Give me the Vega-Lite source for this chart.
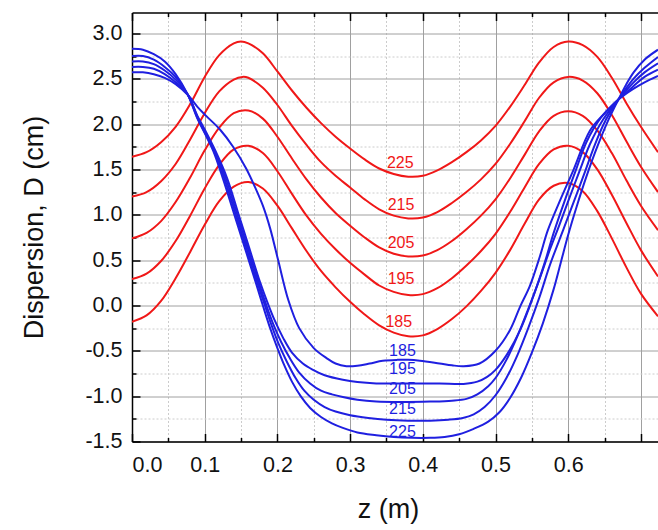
{
  "$schema": "https://vega.github.io/schema/vega-lite/v6.json",
  "autosize": {"type": "none"},
  "width": 526,
  "height": 429,
  "padding": {"left": 132, "top": 12.5, "right": 0, "bottom": 88.5},
  "background": "white",
  "config": {"font": "Liberation Sans", "view": {"stroke": null}},
  "datasets": {
    "red": [
      {"c":"r225","z":0,"d":1.64},{"c":"r225","z":0.02,"d":1.69},{"c":"r225","z":0.04,"d":1.80},{"c":"r225","z":0.06,"d":1.97},{"c":"r225","z":0.08,"d":2.22},{"c":"r225","z":0.10,"d":2.52},{"c":"r225","z":0.12,"d":2.76},{"c":"r225","z":0.14,"d":2.89},{"c":"r225","z":0.15,"d":2.91},{"c":"r225","z":0.16,"d":2.89},{"c":"r225","z":0.18,"d":2.78},{"c":"r225","z":0.20,"d":2.58},{"c":"r225","z":0.22,"d":2.37},{"c":"r225","z":0.24,"d":2.18},{"c":"r225","z":0.26,"d":2.01},{"c":"r225","z":0.28,"d":1.86},{"c":"r225","z":0.30,"d":1.73},{"c":"r225","z":0.32,"d":1.61},{"c":"r225","z":0.34,"d":1.51},{"c":"r225","z":0.36,"d":1.45},{"c":"r225","z":0.38,"d":1.42},{"c":"r225","z":0.40,"d":1.43},{"c":"r225","z":0.42,"d":1.49},{"c":"r225","z":0.44,"d":1.58},{"c":"r225","z":0.46,"d":1.69},{"c":"r225","z":0.48,"d":1.82},{"c":"r225","z":0.50,"d":1.98},{"c":"r225","z":0.52,"d":2.19},{"c":"r225","z":0.54,"d":2.43},{"c":"r225","z":0.56,"d":2.68},{"c":"r225","z":0.58,"d":2.85},{"c":"r225","z":0.60,"d":2.91},{"c":"r225","z":0.62,"d":2.87},{"c":"r225","z":0.64,"d":2.74},{"c":"r225","z":0.66,"d":2.51},{"c":"r225","z":0.68,"d":2.23},{"c":"r225","z":0.70,"d":1.97},{"c":"r225","z":0.7235,"d":1.69},
      {"c":"r215","z":0,"d":1.20},{"c":"r215","z":0.02,"d":1.25},{"c":"r215","z":0.04,"d":1.37},{"c":"r215","z":0.06,"d":1.56},{"c":"r215","z":0.08,"d":1.83},{"c":"r215","z":0.10,"d":2.12},{"c":"r215","z":0.12,"d":2.36},{"c":"r215","z":0.14,"d":2.49},{"c":"r215","z":0.152,"d":2.52},{"c":"r215","z":0.16,"d":2.51},{"c":"r215","z":0.18,"d":2.40},{"c":"r215","z":0.20,"d":2.21},{"c":"r215","z":0.22,"d":1.98},{"c":"r215","z":0.24,"d":1.77},{"c":"r215","z":0.26,"d":1.58},{"c":"r215","z":0.28,"d":1.43},{"c":"r215","z":0.30,"d":1.30},{"c":"r215","z":0.32,"d":1.17},{"c":"r215","z":0.34,"d":1.06},{"c":"r215","z":0.36,"d":0.99},{"c":"r215","z":0.38,"d":0.96},{"c":"r215","z":0.40,"d":0.97},{"c":"r215","z":0.42,"d":1.03},{"c":"r215","z":0.44,"d":1.13},{"c":"r215","z":0.46,"d":1.25},{"c":"r215","z":0.48,"d":1.39},{"c":"r215","z":0.50,"d":1.56},{"c":"r215","z":0.52,"d":1.78},{"c":"r215","z":0.54,"d":2.03},{"c":"r215","z":0.56,"d":2.29},{"c":"r215","z":0.58,"d":2.46},{"c":"r215","z":0.60,"d":2.52},{"c":"r215","z":0.62,"d":2.48},{"c":"r215","z":0.64,"d":2.34},{"c":"r215","z":0.66,"d":2.10},{"c":"r215","z":0.68,"d":1.81},{"c":"r215","z":0.70,"d":1.53},{"c":"r215","z":0.7235,"d":1.25},
      {"c":"r205","z":0,"d":0.74},{"c":"r205","z":0.02,"d":0.80},{"c":"r205","z":0.04,"d":0.93},{"c":"r205","z":0.06,"d":1.14},{"c":"r205","z":0.08,"d":1.41},{"c":"r205","z":0.10,"d":1.71},{"c":"r205","z":0.12,"d":1.96},{"c":"r205","z":0.14,"d":2.12},{"c":"r205","z":0.16,"d":2.15},{"c":"r205","z":0.18,"d":2.06},{"c":"r205","z":0.20,"d":1.86},{"c":"r205","z":0.22,"d":1.62},{"c":"r205","z":0.24,"d":1.39},{"c":"r205","z":0.26,"d":1.19},{"c":"r205","z":0.28,"d":1.02},{"c":"r205","z":0.30,"d":0.88},{"c":"r205","z":0.32,"d":0.75},{"c":"r205","z":0.34,"d":0.64},{"c":"r205","z":0.36,"d":0.57},{"c":"r205","z":0.38,"d":0.54},{"c":"r205","z":0.40,"d":0.55},{"c":"r205","z":0.42,"d":0.61},{"c":"r205","z":0.44,"d":0.71},{"c":"r205","z":0.46,"d":0.84},{"c":"r205","z":0.48,"d":0.99},{"c":"r205","z":0.50,"d":1.17},{"c":"r205","z":0.52,"d":1.40},{"c":"r205","z":0.54,"d":1.66},{"c":"r205","z":0.56,"d":1.92},{"c":"r205","z":0.58,"d":2.09},{"c":"r205","z":0.60,"d":2.14},{"c":"r205","z":0.62,"d":2.09},{"c":"r205","z":0.64,"d":1.93},{"c":"r205","z":0.66,"d":1.68},{"c":"r205","z":0.68,"d":1.38},{"c":"r205","z":0.70,"d":1.10},{"c":"r205","z":0.7235,"d":0.83},
      {"c":"r195","z":0,"d":0.29},{"c":"r195","z":0.02,"d":0.35},{"c":"r195","z":0.04,"d":0.49},{"c":"r195","z":0.06,"d":0.71},{"c":"r195","z":0.08,"d":0.99},{"c":"r195","z":0.10,"d":1.29},{"c":"r195","z":0.12,"d":1.55},{"c":"r195","z":0.14,"d":1.72},{"c":"r195","z":0.16,"d":1.76},{"c":"r195","z":0.18,"d":1.68},{"c":"r195","z":0.20,"d":1.48},{"c":"r195","z":0.22,"d":1.23},{"c":"r195","z":0.24,"d":0.99},{"c":"r195","z":0.26,"d":0.79},{"c":"r195","z":0.28,"d":0.62},{"c":"r195","z":0.30,"d":0.47},{"c":"r195","z":0.32,"d":0.34},{"c":"r195","z":0.34,"d":0.22},{"c":"r195","z":0.36,"d":0.15},{"c":"r195","z":0.38,"d":0.115},{"c":"r195","z":0.40,"d":0.125},{"c":"r195","z":0.42,"d":0.19},{"c":"r195","z":0.44,"d":0.30},{"c":"r195","z":0.46,"d":0.44},{"c":"r195","z":0.48,"d":0.60},{"c":"r195","z":0.50,"d":0.79},{"c":"r195","z":0.52,"d":1.03},{"c":"r195","z":0.54,"d":1.30},{"c":"r195","z":0.56,"d":1.56},{"c":"r195","z":0.58,"d":1.72},{"c":"r195","z":0.60,"d":1.76},{"c":"r195","z":0.62,"d":1.69},{"c":"r195","z":0.64,"d":1.50},{"c":"r195","z":0.66,"d":1.22},{"c":"r195","z":0.68,"d":0.91},{"c":"r195","z":0.70,"d":0.61},{"c":"r195","z":0.7235,"d":0.32},
      {"c":"r185","z":0,"d":-0.18},{"c":"r185","z":0.02,"d":-0.11},{"c":"r185","z":0.04,"d":0.05},{"c":"r185","z":0.06,"d":0.30},{"c":"r185","z":0.08,"d":0.59},{"c":"r185","z":0.10,"d":0.89},{"c":"r185","z":0.12,"d":1.15},{"c":"r185","z":0.14,"d":1.31},{"c":"r185","z":0.16,"d":1.36},{"c":"r185","z":0.18,"d":1.29},{"c":"r185","z":0.20,"d":1.10},{"c":"r185","z":0.22,"d":0.85},{"c":"r185","z":0.24,"d":0.60},{"c":"r185","z":0.26,"d":0.38},{"c":"r185","z":0.28,"d":0.20},{"c":"r185","z":0.30,"d":0.04},{"c":"r185","z":0.32,"d":-0.10},{"c":"r185","z":0.34,"d":-0.22},{"c":"r185","z":0.36,"d":-0.30},{"c":"r185","z":0.38,"d":-0.34},{"c":"r185","z":0.40,"d":-0.33},{"c":"r185","z":0.42,"d":-0.26},{"c":"r185","z":0.44,"d":-0.15},{"c":"r185","z":0.46,"d":-0.01},{"c":"r185","z":0.48,"d":0.16},{"c":"r185","z":0.50,"d":0.36},{"c":"r185","z":0.52,"d":0.61},{"c":"r185","z":0.54,"d":0.90},{"c":"r185","z":0.56,"d":1.17},{"c":"r185","z":0.58,"d":1.32},{"c":"r185","z":0.60,"d":1.35},{"c":"r185","z":0.62,"d":1.26},{"c":"r185","z":0.64,"d":1.04},{"c":"r185","z":0.66,"d":0.74},{"c":"r185","z":0.68,"d":0.42},{"c":"r185","z":0.70,"d":0.13},{"c":"r185","z":0.7235,"d":-0.12}
    ],
    "blue": [
      {"c":"b225","z":0,"d":2.83},{"c":"b225","z":0.015,"d":2.82},{"c":"b225","z":0.03,"d":2.77},{"c":"b225","z":0.045,"d":2.69},{"c":"b225","z":0.06,"d":2.55},{"c":"b225","z":0.077,"d":2.32},{"c":"b225","z":0.09,"d":2.06},{"c":"b225","z":0.10,"d":1.90},{"c":"b225","z":0.112,"d":1.70},{"c":"b225","z":0.125,"d":1.40},{"c":"b225","z":0.14,"d":1.02},{"c":"b225","z":0.155,"d":0.64},{"c":"b225","z":0.17,"d":0.26},{"c":"b225","z":0.18,"d":0.0},{"c":"b225","z":0.19,"d":-0.25},{"c":"b225","z":0.20,"d":-0.47},{"c":"b225","z":0.21,"d":-0.67},{"c":"b225","z":0.22,"d":-0.84},{"c":"b225","z":0.232,"d":-1.00},{"c":"b225","z":0.245,"d":-1.13},{"c":"b225","z":0.26,"d":-1.23},{"c":"b225","z":0.275,"d":-1.30},{"c":"b225","z":0.29,"d":-1.35},{"c":"b225","z":0.31,"d":-1.40},{"c":"b225","z":0.336,"d":-1.43},{"c":"b225","z":0.36,"d":-1.45},{"c":"b225","z":0.385,"d":-1.46},{"c":"b225","z":0.41,"d":-1.46},{"c":"b225","z":0.43,"d":-1.45},{"c":"b225","z":0.45,"d":-1.42},{"c":"b225","z":0.47,"d":-1.36},{"c":"b225","z":0.49,"d":-1.28},{"c":"b225","z":0.505,"d":-1.18},{"c":"b225","z":0.52,"d":-1.02},{"c":"b225","z":0.535,"d":-0.80},{"c":"b225","z":0.55,"d":-0.52},{"c":"b225","z":0.565,"d":-0.20},{"c":"b225","z":0.58,"d":0.18},{"c":"b225","z":0.59,"d":0.48},{"c":"b225","z":0.60,"d":0.78},{"c":"b225","z":0.612,"d":1.10},{"c":"b225","z":0.625,"d":1.42},{"c":"b225","z":0.64,"d":1.75},{"c":"b225","z":0.655,"d":2.04},{"c":"b225","z":0.669,"d":2.27},{"c":"b225","z":0.68,"d":2.44},{"c":"b225","z":0.69,"d":2.57},{"c":"b225","z":0.705,"d":2.71},{"c":"b225","z":0.7235,"d":2.82},
      {"c":"b215","z":0,"d":2.75},{"c":"b215","z":0.015,"d":2.75},{"c":"b215","z":0.03,"d":2.71},{"c":"b215","z":0.045,"d":2.63},{"c":"b215","z":0.06,"d":2.52},{"c":"b215","z":0.077,"d":2.32},{"c":"b215","z":0.09,"d":2.07},{"c":"b215","z":0.10,"d":1.91},{"c":"b215","z":0.113,"d":1.70},{"c":"b215","z":0.127,"d":1.40},{"c":"b215","z":0.142,"d":1.02},{"c":"b215","z":0.157,"d":0.64},{"c":"b215","z":0.172,"d":0.26},{"c":"b215","z":0.182,"d":0.02},{"c":"b215","z":0.192,"d":-0.22},{"c":"b215","z":0.202,"d":-0.43},{"c":"b215","z":0.213,"d":-0.62},{"c":"b215","z":0.225,"d":-0.80},{"c":"b215","z":0.237,"d":-0.94},{"c":"b215","z":0.25,"d":-1.04},{"c":"b215","z":0.265,"d":-1.12},{"c":"b215","z":0.28,"d":-1.17},{"c":"b215","z":0.30,"d":-1.21},{"c":"b215","z":0.325,"d":-1.24},{"c":"b215","z":0.35,"d":-1.26},{"c":"b215","z":0.38,"d":-1.27},{"c":"b215","z":0.41,"d":-1.27},{"c":"b215","z":0.435,"d":-1.26},{"c":"b215","z":0.455,"d":-1.24},{"c":"b215","z":0.47,"d":-1.20},{"c":"b215","z":0.485,"d":-1.12},{"c":"b215","z":0.50,"d":-0.99},{"c":"b215","z":0.515,"d":-0.80},{"c":"b215","z":0.53,"d":-0.55},{"c":"b215","z":0.545,"d":-0.25},{"c":"b215","z":0.56,"d":0.08},{"c":"b215","z":0.575,"d":0.45},{"c":"b215","z":0.593,"d":0.83},{"c":"b215","z":0.608,"d":1.15},{"c":"b215","z":0.622,"d":1.45},{"c":"b215","z":0.637,"d":1.78},{"c":"b215","z":0.652,"d":2.05},{"c":"b215","z":0.669,"d":2.27},{"c":"b215","z":0.69,"d":2.50},{"c":"b215","z":0.705,"d":2.62},{"c":"b215","z":0.7235,"d":2.74},
      {"c":"b205","z":0,"d":2.69},{"c":"b205","z":0.015,"d":2.69},{"c":"b205","z":0.03,"d":2.66},{"c":"b205","z":0.045,"d":2.59},{"c":"b205","z":0.06,"d":2.49},{"c":"b205","z":0.077,"d":2.32},{"c":"b205","z":0.09,"d":2.08},{"c":"b205","z":0.10,"d":1.92},{"c":"b205","z":0.114,"d":1.70},{"c":"b205","z":0.129,"d":1.40},{"c":"b205","z":0.144,"d":1.02},{"c":"b205","z":0.159,"d":0.64},{"c":"b205","z":0.174,"d":0.26},{"c":"b205","z":0.184,"d":0.02},{"c":"b205","z":0.194,"d":-0.20},{"c":"b205","z":0.205,"d":-0.40},{"c":"b205","z":0.217,"d":-0.58},{"c":"b205","z":0.23,"d":-0.74},{"c":"b205","z":0.245,"d":-0.86},{"c":"b205","z":0.26,"d":-0.94},{"c":"b205","z":0.275,"d":-0.98},{"c":"b205","z":0.29,"d":-1.01},{"c":"b205","z":0.31,"d":-1.04},{"c":"b205","z":0.336,"d":-1.06},{"c":"b205","z":0.37,"d":-1.065},{"c":"b205","z":0.41,"d":-1.06},{"c":"b205","z":0.44,"d":-1.05},{"c":"b205","z":0.46,"d":-1.03},{"c":"b205","z":0.475,"d":-0.98},{"c":"b205","z":0.49,"d":-0.89},{"c":"b205","z":0.50,"d":-0.80},{"c":"b205","z":0.515,"d":-0.60},{"c":"b205","z":0.53,"d":-0.34},{"c":"b205","z":0.545,"d":-0.04},{"c":"b205","z":0.56,"d":0.28},{"c":"b205","z":0.575,"d":0.62},{"c":"b205","z":0.587,"d":0.87},{"c":"b205","z":0.60,"d":1.15},{"c":"b205","z":0.615,"d":1.47},{"c":"b205","z":0.63,"d":1.78},{"c":"b205","z":0.648,"d":2.05},{"c":"b205","z":0.669,"d":2.27},{"c":"b205","z":0.69,"d":2.46},{"c":"b205","z":0.705,"d":2.57},{"c":"b205","z":0.7235,"d":2.67},
      {"c":"b195","z":0,"d":2.63},{"c":"b195","z":0.015,"d":2.63},{"c":"b195","z":0.03,"d":2.61},{"c":"b195","z":0.045,"d":2.55},{"c":"b195","z":0.06,"d":2.46},{"c":"b195","z":0.077,"d":2.32},{"c":"b195","z":0.09,"d":2.09},{"c":"b195","z":0.10,"d":1.94},{"c":"b195","z":0.115,"d":1.70},{"c":"b195","z":0.131,"d":1.40},{"c":"b195","z":0.146,"d":1.02},{"c":"b195","z":0.161,"d":0.64},{"c":"b195","z":0.176,"d":0.26},{"c":"b195","z":0.186,"d":0.04},{"c":"b195","z":0.196,"d":-0.16},{"c":"b195","z":0.208,"d":-0.36},{"c":"b195","z":0.22,"d":-0.52},{"c":"b195","z":0.235,"d":-0.64},{"c":"b195","z":0.249,"d":-0.71},{"c":"b195","z":0.265,"d":-0.77},{"c":"b195","z":0.29,"d":-0.82},{"c":"b195","z":0.31,"d":-0.845},{"c":"b195","z":0.336,"d":-0.86},{"c":"b195","z":0.382,"d":-0.86},{"c":"b195","z":0.423,"d":-0.86},{"c":"b195","z":0.456,"d":-0.865},{"c":"b195","z":0.475,"d":-0.84},{"c":"b195","z":0.488,"d":-0.79},{"c":"b195","z":0.50,"d":-0.71},{"c":"b195","z":0.515,"d":-0.55},{"c":"b195","z":0.534,"d":-0.27},{"c":"b195","z":0.552,"d":0.10},{"c":"b195","z":0.568,"d":0.48},{"c":"b195","z":0.58,"d":0.80},{"c":"b195","z":0.595,"d":1.15},{"c":"b195","z":0.61,"d":1.48},{"c":"b195","z":0.625,"d":1.80},{"c":"b195","z":0.645,"d":2.07},{"c":"b195","z":0.669,"d":2.27},{"c":"b195","z":0.69,"d":2.42},{"c":"b195","z":0.705,"d":2.52},{"c":"b195","z":0.7235,"d":2.60},
      {"c":"b185","z":0,"d":2.57},{"c":"b185","z":0.015,"d":2.57},{"c":"b185","z":0.03,"d":2.55},{"c":"b185","z":0.045,"d":2.51},{"c":"b185","z":0.06,"d":2.44},{"c":"b185","z":0.077,"d":2.32},{"c":"b185","z":0.09,"d":2.19},{"c":"b185","z":0.102,"d":2.09},{"c":"b185","z":0.121,"d":1.94},{"c":"b185","z":0.139,"d":1.75},{"c":"b185","z":0.157,"d":1.51},{"c":"b185","z":0.17,"d":1.29},{"c":"b185","z":0.18,"d":1.10},{"c":"b185","z":0.19,"d":0.85},{"c":"b185","z":0.201,"d":0.50},{"c":"b185","z":0.215,"d":0.06},{"c":"b185","z":0.23,"d":-0.25},{"c":"b185","z":0.25,"d":-0.47},{"c":"b185","z":0.2675,"d":-0.58},{"c":"b185","z":0.28,"d":-0.64},{"c":"b185","z":0.295,"d":-0.67},{"c":"b185","z":0.31,"d":-0.665},{"c":"b185","z":0.327,"d":-0.64},{"c":"b185","z":0.345,"d":-0.61},{"c":"b185","z":0.365,"d":-0.60},{"c":"b185","z":0.38,"d":-0.60},{"c":"b185","z":0.396,"d":-0.61},{"c":"b185","z":0.423,"d":-0.64},{"c":"b185","z":0.44,"d":-0.66},{"c":"b185","z":0.456,"d":-0.67},{"c":"b185","z":0.478,"d":-0.64},{"c":"b185","z":0.50,"d":-0.50},{"c":"b185","z":0.52,"d":-0.27},{"c":"b185","z":0.534,"d":-0.01},{"c":"b185","z":0.547,"d":0.21},{"c":"b185","z":0.561,"d":0.54},{"c":"b185","z":0.572,"d":0.83},{"c":"b185","z":0.59,"d":1.18},{"c":"b185","z":0.607,"d":1.49},{"c":"b185","z":0.63,"d":1.93},{"c":"b185","z":0.65,"d":2.12},{"c":"b185","z":0.669,"d":2.27},{"c":"b185","z":0.69,"d":2.39},{"c":"b185","z":0.705,"d":2.46},{"c":"b185","z":0.7235,"d":2.53}
    ],
    "redlabels": [
      {"z":0.369,"d":1.57,"t":"225"},{"z":0.370,"d":1.11,"t":"215"},{"z":0.370,"d":0.685,"t":"205"},{"z":0.370,"d":0.29,"t":"195"},{"z":0.367,"d":-0.18,"t":"185"}
    ],
    "bluelabels": [
      {"z":0.372,"d":-0.50,"t":"185"},{"z":0.372,"d":-0.70,"t":"195"},{"z":0.372,"d":-0.925,"t":"205"},{"z":0.372,"d":-1.145,"t":"215"},{"z":0.372,"d":-1.39,"t":"225"}
    ]
  },
  "resolve": {"axis": {"x": "independent", "y": "independent"}},
  "layer": [
    {
      "data": {"name": "red"},
      "mark": {"type": "line", "clip": true, "strokeWidth": 2, "color": "#f01818", "interpolate": "catmull-rom"},
      "encoding": {
        "detail": {"field": "c", "type": "nominal"},
        "x": {"field": "z", "type": "quantitative",
          "scale": {"domain": [0, 0.7235], "nice": false, "zero": false},
          "axis": {"orient": "bottom", "values": [0, 0.1, 0.2, 0.3, 0.4, 0.5, 0.6, 0.7], "labelExpr": "datum.value > 0.65 ? '' : format(datum.value, '.1f')",
            "grid": true, "gridColor": "#a0a0a0", "gridWidth": 1,
            "tickSize": -8, "tickColor": "black", "tickWidth": 1.5,
            "domain": true, "domainColor": "black", "domainWidth": 1.5,
            "labelFontSize": 21.5, "labelColor": "#111", "labelPadding": 21,
            "title": "z (m)", "titleFontSize": 27, "titleFontWeight": "normal", "titleColor": "#111", "titlePadding": 20, "titleX": 256}},
        "y": {"field": "d", "type": "quantitative",
          "scale": {"domain": [-1.5, 3.23], "nice": false, "zero": false},
          "axis": {"orient": "left", "values": [-1.5, -1, -0.5, 0, 0.5, 1, 1.5, 2, 2.5, 3], "labelExpr": "replace(format(datum.value, '.1f'), '\u2212', '-')",
            "grid": true, "gridColor": "#a0a0a0", "gridWidth": 1,
            "tickSize": -8, "tickColor": "black", "tickWidth": 1.5,
            "domain": true, "domainColor": "black", "domainWidth": 1.5,
            "labelFontSize": 21.5, "labelColor": "#111", "labelPadding": 18,
            "title": "Dispersion, D (cm)", "titleFontSize": 27, "titleFontWeight": "normal", "titleColor": "#111", "titlePadding": 36}}
      }
    },
    {
      "data": {"name": "blue"},
      "mark": {"type": "line", "clip": true, "strokeWidth": 2, "color": "#1f1fe0", "interpolate": "catmull-rom"},
      "encoding": {
        "detail": {"field": "c", "type": "nominal"},
        "x": {"field": "z", "type": "quantitative",
          "scale": {"domain": [0, 0.7235], "nice": false, "zero": false},
          "axis": {"orient": "bottom", "values": [0.05, 0.15, 0.25, 0.35, 0.45, 0.55, 0.65], "labels": false,
            "grid": true, "gridColor": "#cccccc", "gridDash": [2, 2], "gridWidth": 1,
            "tickSize": -4, "tickColor": "black", "tickWidth": 1.5, "domain": false, "title": null}},
        "y": {"field": "d", "type": "quantitative",
          "scale": {"domain": [-1.5, 3.23], "nice": false, "zero": false},
          "axis": {"orient": "left", "values": [-1.25, -0.75, -0.25, 0.25, 0.75, 1.25, 1.75, 2.25, 2.75], "labels": false,
            "grid": true, "gridColor": "#cccccc", "gridDash": [2, 2], "gridWidth": 1,
            "tickSize": -4, "tickColor": "black", "tickWidth": 1.5, "domain": false, "title": null}}
      }
    },
    {
      "data": {"name": "redlabels"},
      "mark": {"type": "text", "color": "#f01818", "fontSize": 16, "align": "center", "baseline": "middle"},
      "encoding": {
        "text": {"field": "t", "type": "nominal"},
        "x": {"field": "z", "type": "quantitative",
          "scale": {"domain": [0, 0.7235], "nice": false, "zero": false},
          "axis": {"orient": "top", "values": [0, 0.1, 0.2, 0.3, 0.4, 0.5, 0.6, 0.7], "labels": false, "grid": false,
            "tickSize": -8, "tickColor": "black", "tickWidth": 1.5,
            "domain": true, "domainColor": "black", "domainWidth": 1.5, "title": null}},
        "y": {"field": "d", "type": "quantitative",
          "scale": {"domain": [-1.5, 3.23], "nice": false, "zero": false}, "axis": null}
      }
    },
    {
      "data": {"name": "bluelabels"},
      "mark": {"type": "text", "color": "#1f1fe0", "fontSize": 16, "align": "center", "baseline": "middle"},
      "encoding": {
        "text": {"field": "t", "type": "nominal"},
        "x": {"field": "z", "type": "quantitative",
          "scale": {"domain": [0, 0.7235], "nice": false, "zero": false},
          "axis": {"orient": "top", "values": [0.05, 0.15, 0.25, 0.35, 0.45, 0.55, 0.65], "labels": false, "grid": false,
            "tickSize": -4, "tickColor": "black", "tickWidth": 1.5, "domain": false, "title": null}},
        "y": {"field": "d", "type": "quantitative",
          "scale": {"domain": [-1.5, 3.23], "nice": false, "zero": false}, "axis": null}
      }
    }
  ]
}
